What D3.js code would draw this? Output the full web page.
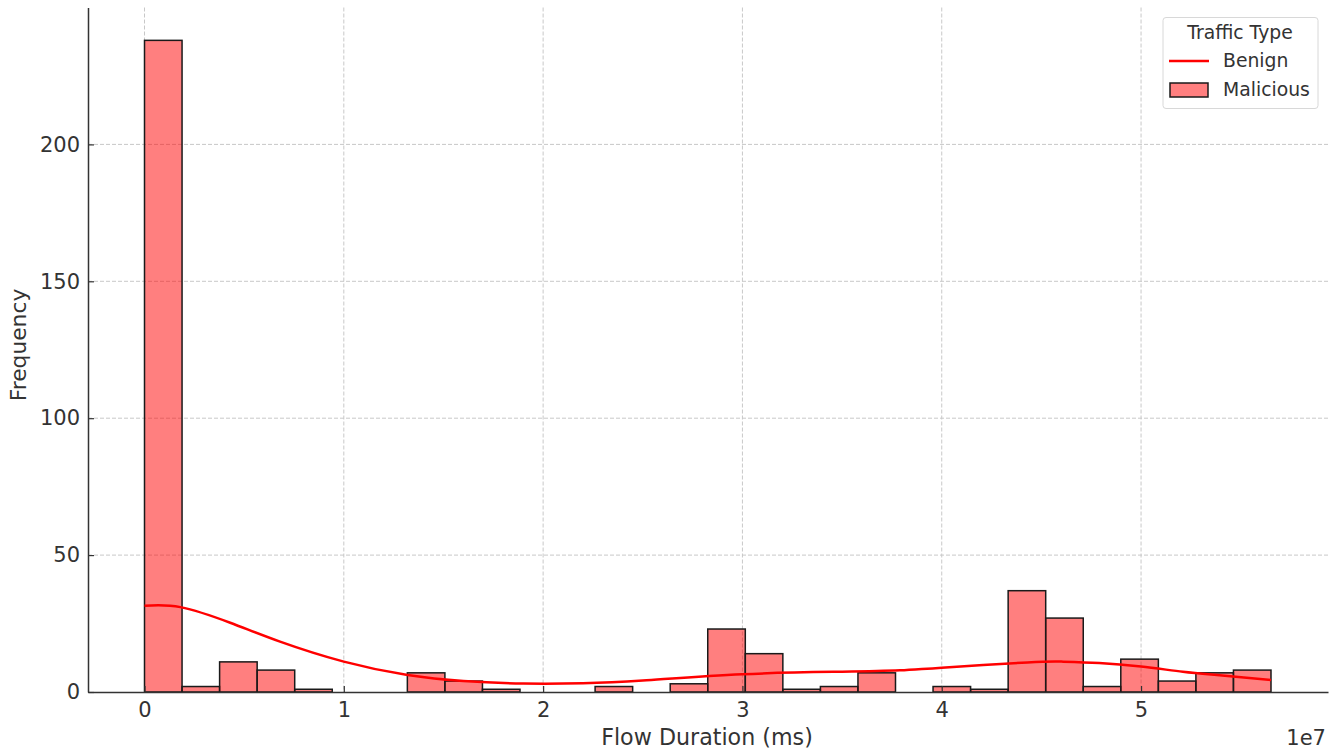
<!DOCTYPE html>
<html><head><meta charset="utf-8">
<script src="https://cdn.jsdelivr.net/npm/d3@7"></script>
<style>body{margin:0;background:#fff;} svg{display:block;font-family:"DejaVu Sans",sans-serif;}</style>
</head><body>
<svg id="c" width="1338" height="751"></svg>
<script>
// Histogram of Malicious flows: 30 bins from 0 to 5.652e7
const binMin = 0, binMax = 5.652e7, binCount = 30;
const maliciousCounts = [238,2,11,8,1,0,0,7,4,1,0,0,2,0,3,23,14,1,2,7,0,2,1,37,27,2,12,4,7,8];
// Benign KDE curve (x in units of 1e7, y in frequency)
const kdeX = [0,0.18,0.43,0.68,1.0,1.32,1.6,1.9,2.2,2.5,3.0,3.5,3.79,4.0,4.43,4.6,4.79,5.0,5.21,5.38,5.652];
const kdeY = [31.5,31.0,25.3,18.4,11.1,6.2,4.0,3.1,3.2,4.2,6.5,7.4,7.9,8.9,10.8,11.1,10.6,9.3,7.4,6.2,4.4];
const xTicks = [0,1,2,3,4,5];
const yTicks = [0,50,100,150,200];

const svg = d3.select("#c");
const pLeft = 88, pRight = 1328, pTop = 7.5, pBottom = 692;
const x = d3.scaleLinear().domain([-0.2835e7, 5.938e7]).range([pLeft, pRight]);
const y = d3.scaleLinear().domain([0, 250]).range([pBottom, pTop]);
const textCol = "#333";

// grid
const g = svg.append("g");
g.selectAll(".vg").data(xTicks).enter().append("line")
  .attr("x1", d => x(d*1e7)).attr("x2", d => x(d*1e7))
  .attr("y1", pTop).attr("y2", pBottom)
  .attr("stroke", "#c8c8c8").attr("stroke-width", 1).attr("stroke-dasharray", "4,2");
g.selectAll(".hg").data(yTicks.filter(d=>d>0)).enter().append("line")
  .attr("x1", pLeft).attr("x2", pRight)
  .attr("y1", d => y(d)).attr("y2", d => y(d))
  .attr("stroke", "#c8c8c8").attr("stroke-width", 1).attr("stroke-dasharray", "4,2");

// bars
const bw = (binMax - binMin) / binCount;
svg.append("g").selectAll("rect").data(maliciousCounts.map((c,i)=>({c,i})).filter(d => d.c > 0)).enter()
  .append("rect")
  .attr("x", d => x(binMin + d.i*bw))
  .attr("width", d => x(binMin + (d.i+1)*bw) - x(binMin + d.i*bw))
  .attr("y", d => y(d.c))
  .attr("height", d => y(0) - y(d.c))
  .attr("fill", "rgba(255,0,0,0.5)")
  .attr("stroke", "#1a1a1a").attr("stroke-width", 1.5);

// KDE line
const pts = kdeX.map((v,i) => [v*1e7, kdeY[i]]);
svg.append("path").datum(pts)
  .attr("d", d3.line().x(d => x(d[0])).y(d => y(d[1])).curve(d3.curveNatural))
  .attr("fill", "none").attr("stroke", "#ff0000").attr("stroke-width", 2.5);

// axes
const xAxis = svg.append("g").attr("transform", `translate(0,${pBottom})`)
  .call(d3.axisBottom(x).tickValues(xTicks.map(d=>d*1e7)).tickFormat((d,i)=>xTicks[i]).tickSizeInner(-6).tickSizeOuter(0).tickPadding(10));
xAxis.select(".domain").attr("stroke", "#333").attr("stroke-width", 1.5);
xAxis.selectAll(".tick line").attr("stroke", "#333").attr("stroke-width", 1.2);
xAxis.selectAll("text").attr("font-size", 21).attr("fill", textCol).attr("font-family", "DejaVu Sans");

const yAxis = svg.append("g").attr("transform", `translate(${pLeft},0)`)
  .call(d3.axisLeft(y).tickValues(yTicks).tickSizeInner(-6).tickSizeOuter(0).tickPadding(8));
yAxis.select(".domain").attr("stroke", "#333").attr("stroke-width", 1.5);
yAxis.selectAll(".tick line").attr("stroke", "#333").attr("stroke-width", 1.2);
yAxis.selectAll("text").attr("font-size", 21).attr("fill", textCol).attr("font-family", "DejaVu Sans");

// labels
svg.append("text").attr("x", 707).attr("y", 745).attr("text-anchor","middle")
  .attr("font-size", 22.2).attr("fill", textCol).text("Flow Duration (ms)");
svg.append("text").attr("transform", "translate(26,345) rotate(-90)").attr("text-anchor","middle")
  .attr("font-size", 21.8).attr("fill", textCol).text("Frequency");
svg.append("text").attr("x", 1326).attr("y", 745).attr("text-anchor","end")
  .attr("font-size", 21).attr("fill", textCol).text("1e7");

// legend
const lg = svg.append("g");
lg.append("rect").attr("x", 1163).attr("y", 17.5).attr("width", 155).attr("height", 91).attr("rx", 3)
  .attr("fill", "#fff").attr("fill-opacity", 0.85).attr("stroke", "#d8d8d8");
lg.append("text").attr("x", 1240).attr("y", 39).attr("text-anchor","middle").attr("font-size", 18.8).attr("fill", textCol).text("Traffic Type");
lg.append("line").attr("x1", 1169).attr("x2", 1209).attr("y1", 61).attr("y2", 61).attr("stroke", "#ff0000").attr("stroke-width", 2.5);
lg.append("text").attr("x", 1223).attr("y", 67).attr("font-size", 18.8).attr("fill", textCol).text("Benign");
lg.append("rect").attr("x", 1170).attr("y", 83).attr("width", 38).attr("height", 14)
  .attr("fill", "rgba(255,0,0,0.5)").attr("stroke", "#1a1a1a").attr("stroke-width", 1.5);
lg.append("text").attr("x", 1223).attr("y", 96).attr("font-size", 18.8).attr("fill", textCol).text("Malicious");
</script>
</body></html>
